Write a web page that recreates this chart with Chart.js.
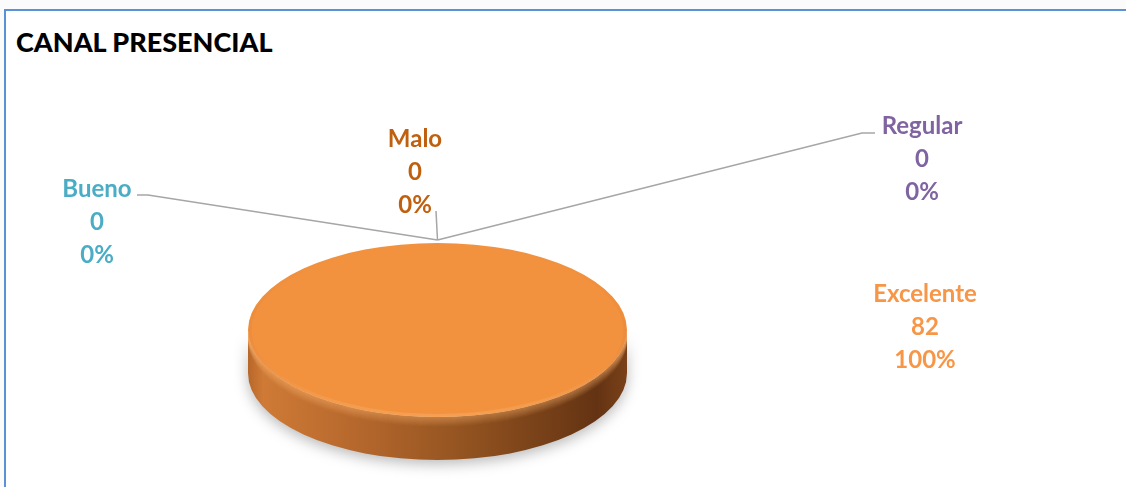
<!DOCTYPE html>
<html>
<head>
<meta charset="utf-8">
<script src="https://cdn.jsdelivr.net/npm/chart.js@4.4.1/dist/chart.umd.min.js"></script>
<style>
  html, body { margin: 0; padding: 0; background: #fbfbfb; overflow: hidden; }
  #frame {
    position: absolute; left: 4px; top: 9px; right: 0; bottom: 0;
    background: #ffffff;
    border-top: 2px solid #5b92d6;
    border-left: 2px solid #5b92d6;
  }
  #title {
    position: absolute; left: 16px; top: 25px;
    font: 900 27px Lato, "Open Sans", sans-serif;
    color: #000000;
    white-space: nowrap;
  }
  #chart { position: absolute; left: 0; top: 0; }
</style>
</head>
<body>
<div id="frame"></div>
<div id="title">CANAL PRESENCIAL</div>
<canvas id="chart" width="1126" height="487"></canvas>
<script>
// Respuestas del canal presencial
const categories = ['Excelente', 'Bueno', 'Regular', 'Malo'];
const counts = [82, 0, 0, 0];
const percents = ['100%', '0%', '0%', '0%'];

// Color of each label and the slice fill
const labelColors = {
    Excelente: '#f79646',
    Bueno: '#4bacc6',
    Regular: '#8064a2',
    Malo: '#c0600f'
};
const sliceColor = '#f2923f';

// Where the label text sits (center x, first baseline) and where its leader line bends
const labelLayout = {
    Excelente: { x: 925, y: 302, elbow: null },
    Bueno: { x: 97, y: 197, elbow: [[137, 195], [148, 195]] },
    Regular: { x: 922, y: 134, elbow: [[875, 133], [862, 133]] },
    Malo: { x: 415, y: 147, elbow: [[436, 211]] }
};
const lineStep = 33;
const depth = 43;

function sideGradient(ctx, left, right) {
    const g = ctx.createLinearGradient(left, 0, right, 0);
    g.addColorStop(0, '#b8672a');
    g.addColorStop(0.04, '#cf7a36');
    g.addColorStop(0.3, '#b4672c');
    g.addColorStop(0.6, '#8f511f');
    g.addColorStop(0.92, '#643313');
    g.addColorStop(1, '#7a4119');
    return g;
}

function sidePath(ctx, x, y, rx, ry) {
    ctx.beginPath();
    ctx.ellipse(x, y, rx, ry, 0, 0, Math.PI, false);
    ctx.lineTo(x - rx, y + depth);
    ctx.ellipse(x, y + depth, rx, ry, 0, Math.PI, 0, true);
    ctx.closePath();
}

const pie3d = {
    id: 'pie3d',
    beforeDatasetsDraw(chart) {
        const ctx = chart.ctx;
        const arc = chart.getDatasetMeta(0).data[0];
        const area = chart.chartArea;
        const sx = (area.right - area.left) / 2 / arc.outerRadius;
        const rx = arc.outerRadius * sx, ry = arc.outerRadius;
        const x = arc.x, y = arc.y;
        chart.$pie = { x, y, rx, ry, sx };

        // side wall of the disc with a soft shadow underneath
        ctx.save();
        ctx.shadowColor = 'rgba(0,0,0,0.28)';
        ctx.shadowBlur = 14;
        ctx.shadowOffsetY = 4;
        sidePath(ctx, x, y, rx, ry);
        ctx.fillStyle = sideGradient(ctx, x - rx, x + rx);
        ctx.fill();
        ctx.restore();

        // rounded highlight along the upper lip of the wall
        ctx.save();
        sidePath(ctx, x, y, rx, ry);
        ctx.clip();
        for (let k = 0; k < 10; k++) {
            ctx.beginPath();
            ctx.ellipse(x, y + k, rx, ry, 0, 0, Math.PI, false);
            ctx.strokeStyle = 'rgba(255,185,115,' + (0.3 * (1 - k / 10)).toFixed(3) + ')';
            ctx.lineWidth = 1.5;
            ctx.stroke();
        }
        ctx.restore();

        // squash the round pie into the tilted top face
        ctx.save();
        ctx.translate(x, y);
        ctx.scale(sx, 1);
        ctx.translate(-x, -y);
    },
    afterDatasetsDraw(chart) {
        const ctx = chart.ctx;
        ctx.restore();
        const p = chart.$pie;

        // soft bevel on the edge of the top face
        ctx.save();
        ctx.beginPath();
        ctx.ellipse(p.x, p.y, p.rx - 2, p.ry - 1.5, 0, 0, Math.PI * 2);
        const g = ctx.createLinearGradient(0, p.y - p.ry, 0, p.y + p.ry);
        g.addColorStop(0, 'rgba(235,140,60,0.0)');
        g.addColorStop(0.5, 'rgba(225,130,55,0.35)');
        g.addColorStop(1, 'rgba(250,170,95,0.55)');
        ctx.strokeStyle = g;
        ctx.lineWidth = 3;
        ctx.stroke();
        ctx.restore();

        // labels and leader lines
        const arcs = chart.getDatasetMeta(0).data;
        ctx.save();
        ctx.font = 'bold 24px Lato, "Open Sans", sans-serif';
        ctx.textAlign = 'center';
        ctx.textBaseline = 'alphabetic';
        arcs.forEach((a, i) => {
            const name = categories[i];
            const lay = labelLayout[name];
            if (lay.elbow) {
                const mid = (a.startAngle + a.endAngle) / 2;
                const ax = p.x + Math.cos(mid) * p.rx;
                const ay = p.y + Math.sin(mid) * p.ry - 3;
                ctx.beginPath();
                ctx.moveTo(lay.elbow[0][0], lay.elbow[0][1]);
                lay.elbow.slice(1).forEach(pt => ctx.lineTo(pt[0], pt[1]));
                ctx.lineTo(ax, ay);
                ctx.strokeStyle = '#a6a6a6';
                ctx.lineWidth = 1.5;
                ctx.stroke();
            }
            ctx.fillStyle = labelColors[name];
            ctx.fillText(name, lay.x, lay.y);
            ctx.fillText(String(counts[i]), lay.x, lay.y + lineStep);
            ctx.fillText(percents[i], lay.x, lay.y + lineStep * 2);
        });
        ctx.restore();
    }
};

new Chart(document.getElementById('chart'), {
    type: 'pie',
    data: {
        labels: categories,
        datasets: [{
            data: counts,
            backgroundColor: categories.map(() => sliceColor),
            borderWidth: 0,
            hoverOffset: 0
        }]
    },
    options: {
        responsive: false,
        animation: false,
        events: [],
        layout: { padding: { left: 248, right: 499, top: 243, bottom: 70 } },
        plugins: {
            legend: { display: false },
            title: { display: false },
            tooltip: { enabled: false }
        }
    },
    plugins: [pie3d]
});
</script>
</body>
</html>
